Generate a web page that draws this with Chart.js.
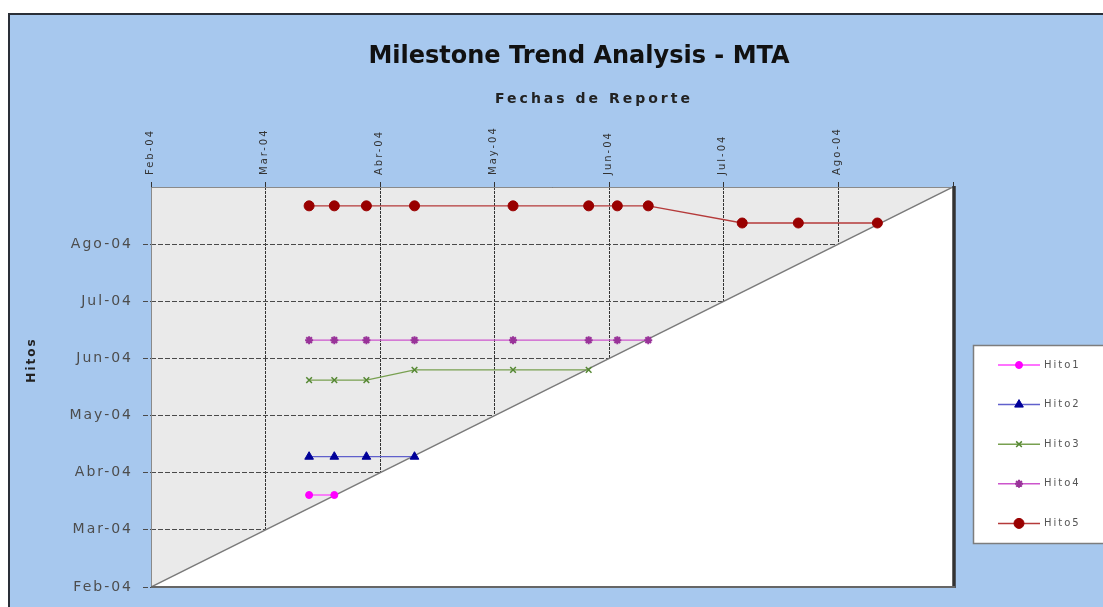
<!DOCTYPE html>
<html>
<head>
<meta charset="utf-8">
<script src="https://cdn.jsdelivr.net/npm/chart.js@4.4.1/dist/chart.umd.min.js"></script>
<style>
  html, body { margin: 0; padding: 0; background: #ffffff; }
  #wrap { width: 1103px; height: 607px; }
</style>
</head>
<body>
<div id="wrap"><canvas id="c" width="1103" height="607"></canvas></div>
<script>
// ---- data (months counted from Feb-04 = 0) ----
const monthLabels = ['Feb-04', 'Mar-04', 'Abr-04', 'May-04', 'Jun-04', 'Jul-04', 'Ago-04'];
const reportDates = [1.38, 1.60, 1.88, 2.30, 3.16, 3.82, 4.07, 4.34, 5.16, 5.65, 6.34];
const seriesNames = ['Hito1', 'Hito2', 'Hito3', 'Hito4', 'Hito5'];
const hito1 = [1.61, 1.61];
const hito2 = [2.28, 2.28, 2.28, 2.28];
const hito3 = [3.62, 3.62, 3.62, 3.80, 3.80, 3.80];
const hito4 = [4.32, 4.32, 4.32, 4.32, 4.32, 4.32, 4.32, 4.32];
const hito5 = [6.67, 6.67, 6.67, 6.67, 6.67, 6.67, 6.67, 6.67, 6.37, 6.37, 6.37];
const diagonal = [0, 7];
const diagonalDates = [0, 7];

function pts(vals) { return vals.map((v, i) => ({ x: reportDates[i], y: v })); }

const styles = [
  { line: '#ff44ff', fill: '#ff00ff', border: '#ff00ff', pointStyle: 'circle', radius: 3.5, bw: 1 },
  { line: '#6060cc', fill: '#000099', border: '#000099', pointStyle: 'triangle', radius: 5, bw: 1 },
  { line: '#78a050', fill: 'rgba(0,0,0,0)', border: '#558833', pointStyle: 'crossRot', radius: 4, bw: 1.5 },
  { line: '#cc55cc', fill: '#993399', border: '#993399', pointStyle: 'star', radius: 4, bw: 2 },
  { line: '#b53a3a', fill: '#990000', border: '#990000', pointStyle: 'circle', radius: 5, bw: 1 }
];
const seriesValues = [hito1, hito2, hito3, hito4, hito5];

const datasets = seriesValues.map((vals, i) => ({
  label: seriesNames[i],
  data: pts(vals),
  borderColor: styles[i].line,
  borderWidth: 1.3,
  backgroundColor: styles[i].fill,
  pointBackgroundColor: styles[i].fill,
  pointBorderColor: styles[i].border,
  pointBorderWidth: styles[i].bw,
  pointStyle: styles[i].pointStyle,
  pointRadius: styles[i].radius,
  tension: 0,
  fill: false,
  order: 1
}));

datasets.push({
  label: '_diag',
  data: diagonal.map((v, i) => ({ x: diagonalDates[i], y: v })),
  borderColor: '#7a7a7a',
  borderWidth: 1.5,
  backgroundColor: '#ffffff',
  pointRadius: 0,
  fill: 'start',
  order: 10
});

const decor = {
  id: 'decor',
  beforeDraw(chart) {
    const ctx = chart.ctx, a = chart.chartArea;
    ctx.save();
    ctx.fillStyle = '#ffffff';
    ctx.fillRect(0, 0, chart.width, chart.height);
    ctx.fillStyle = '#a7c8ee';
    ctx.fillRect(9, 14, chart.width - 9, chart.height - 14);
    ctx.strokeStyle = '#2a2f38';
    ctx.lineWidth = 2;
    ctx.beginPath();
    ctx.moveTo(9, chart.height);
    ctx.lineTo(9, 14);
    ctx.lineTo(chart.width, 14);
    ctx.stroke();
    ctx.fillStyle = '#eaeaea';
    ctx.fillRect(a.left, a.top, a.right - a.left, a.bottom - a.top);
    ctx.restore();
    ctx.letterSpacing = '2px';
  },
  afterDatasetsDraw(chart) {
    const ctx = chart.ctx, a = chart.chartArea;
    ctx.save();
    ctx.strokeStyle = '#8a8a8a';
    ctx.lineWidth = 1;
    ctx.beginPath();
    ctx.moveTo(a.left + 0.5, a.bottom);
    ctx.lineTo(a.left + 0.5, a.top + 0.5);
    ctx.lineTo(a.right, a.top + 0.5);
    ctx.stroke();
    ctx.strokeStyle = '#333333';
    ctx.lineWidth = 3.5;
    ctx.beginPath();
    ctx.moveTo(a.right + 1, a.top - 1);
    ctx.lineTo(a.right + 1, a.bottom + 1);
    ctx.stroke();
    ctx.strokeStyle = '#666666';
    ctx.lineWidth = 2;
    ctx.beginPath();
    ctx.moveTo(a.left, a.bottom);
    ctx.lineTo(a.right + 2, a.bottom);
    ctx.stroke();
    ctx.restore();
  },
  afterDraw(chart) {
    const ctx = chart.ctx;
    ctx.save();
    // titles
    ctx.fillStyle = '#111111';
    ctx.textAlign = 'center';
    ctx.textBaseline = 'alphabetic';
    ctx.letterSpacing = '0px';
    ctx.font = 'bold 24px "DejaVu Sans"';
    ctx.fillText('Milestone Trend Analysis - MTA', 579, 63);
    ctx.letterSpacing = '3px';
    ctx.font = 'bold 14px "DejaVu Sans"';
    ctx.fillStyle = '#222222';
    ctx.fillText('Fechas de Reporte', 594, 103);
    // y title
    ctx.save();
    ctx.translate(32, 361);
    ctx.rotate(-Math.PI / 2);
    ctx.letterSpacing = '2px';
    ctx.font = 'bold 12px "DejaVu Sans"';
    ctx.textBaseline = 'middle';
    ctx.fillText('Hitos', 1, 0);
    ctx.restore();
    // legend box
    const bx = 973, by = 345, bw = 140, bh = 198;
    ctx.fillStyle = '#ffffff';
    ctx.fillRect(bx, by, bw, bh);
    ctx.strokeStyle = '#7d7d7d';
    ctx.lineWidth = 1.5;
    ctx.strokeRect(bx + 0.5, by + 0.5, bw, bh);
    const ds = chart.data.datasets.filter(d => !d.label.startsWith('_'));
    ds.forEach((d, i) => {
      const y = 365 + i * 39.6;
      ctx.strokeStyle = d.borderColor;
      ctx.lineWidth = 1.5;
      ctx.beginPath();
      ctx.moveTo(998, y);
      ctx.lineTo(1040, y);
      ctx.stroke();
      ctx.fillStyle = d.pointBackgroundColor;
      ctx.strokeStyle = d.pointBorderColor;
      ctx.lineWidth = d.pointBorderWidth;
      if (Chart.helpers && Chart.helpers.drawPoint) {
        Chart.helpers.drawPoint(ctx, { pointStyle: d.pointStyle, radius: d.pointRadius, rotation: 0, borderWidth: d.pointBorderWidth }, 1019, y);
      } else {
        ctx.beginPath(); ctx.arc(1019, y, d.pointRadius, 0, Math.PI * 2); ctx.fill();
      }
      ctx.fillStyle = '#555555';
      ctx.textAlign = 'left';
      ctx.textBaseline = 'middle';
      ctx.letterSpacing = '2px';
      ctx.font = '10px "DejaVu Sans"';
      ctx.fillText(d.label, 1044, y);
    });
    ctx.restore();
  }
};

const hideTop = (c) => (c.tick && c.tick.value === 7) ? 'rgba(0,0,0,0)' : '#4a4a4a';

new Chart(document.getElementById('c'), {
  type: 'line',
  data: { datasets },
  options: {
    responsive: false,
    devicePixelRatio: 1,
    animation: false,
    events: [],
    layout: { padding: { left: 0, top: 0, right: 150, bottom: 20 } },
    plugins: { legend: { display: false }, title: { display: false }, tooltip: { enabled: false } },
    scales: {
      x: {
        type: 'linear', position: 'top', min: 0, max: 7,
        afterFit(s) { s.height = 187; s.paddingLeft = 0; s.paddingRight = 0; s.paddingTop = 0; s.paddingBottom = 0; },
        ticks: {
          stepSize: 1, autoSkip: false, minRotation: 90, maxRotation: 90, padding: 7, labelOffset: 11,
          color: '#333333', font: { family: 'DejaVu Sans', size: 10 },
          callback: (v) => monthLabels[v] !== undefined ? monthLabels[v] : ''
        },
        grid: { color: '#333333', lineWidth: 1, tickLength: 5, tickColor: '#333333' },
        border: { display: false, dash: [3, 1] }
      },
      y: {
        type: 'linear', position: 'left', min: 0, max: 7,
        afterFit(s) { s.width = 151; s.paddingLeft = 0; s.paddingRight = 0; s.paddingTop = 0; s.paddingBottom = 0; },
        ticks: {
          stepSize: 1, padding: 10, color: '#4d4d4d',
          font: { family: 'DejaVu Sans', size: 14 },
          callback: (v) => monthLabels[v] !== undefined ? monthLabels[v] : ''
        },
        grid: { color: '#4a4a4a', lineWidth: 1, tickLength: 8, tickColor: hideTop, tickBorderDash: [5, 2] },
        border: { display: false, dash: [5, 2] }
      }
    }
  },
  plugins: [decor]
});
</script>
</body>
</html>
